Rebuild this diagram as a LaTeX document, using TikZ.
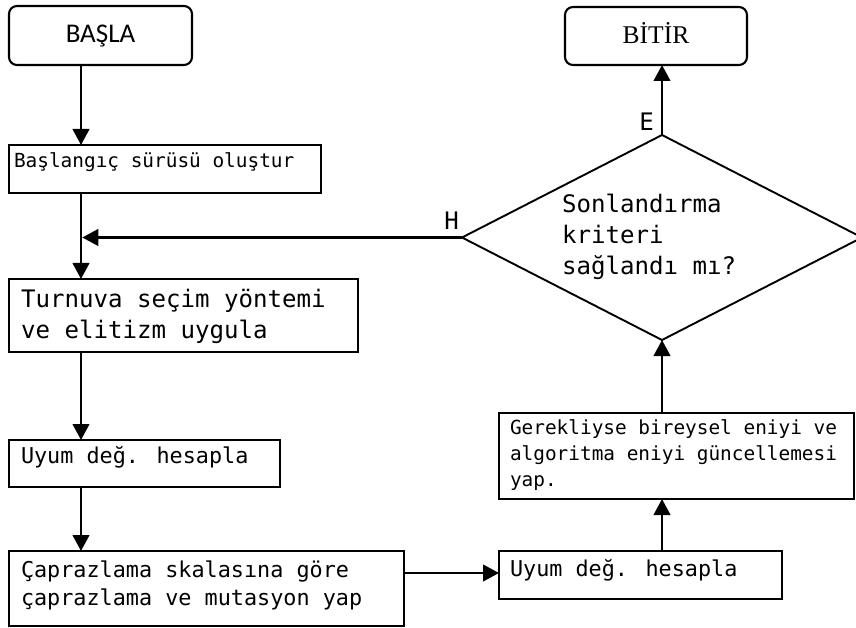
\documentclass[tikz,border=0pt]{standalone}
\usepackage{fontspec}
\newfontfamily\monof{DejaVu Sans Mono}
\newfontfamily\startf{Carlito}
\newfontfamily\endf{Liberation Serif}
\usetikzlibrary{shapes.geometric,arrows.meta}

% text sizes for the step boxes
\newcommand\txtS{\monof\fontsize{19.4pt}{26pt}\selectfont}
\newcommand\txtM{\monof\fontsize{21.8pt}{28pt}\selectfont}
\newcommand\txtL{\monof\fontsize{24.1pt}{31pt}\selectfont}

\tikzset{
  frame/.style={draw, line width=2.1pt, inner sep=0pt, outer sep=0pt, anchor=north west},
  endbox/.style={frame, rounded corners=8pt, text height=15pt, text depth=0pt},
  % multi-line texts are placed by the baseline of their last line
  txt/.style={anchor=base west, inner sep=0pt, outer sep=0pt, align=left},
  lbl/.style={anchor=base east, inner sep=0pt, font=\txtL},
  flow/.style={line width=2.6pt, -{Triangle[length=16pt,width=16.5pt]}},
}

\begin{document}
\begin{tikzpicture}[x=1pt, y=-1pt]
\clip (0,0) rectangle (856,628);

% start / end
\node[endbox, minimum width=183pt, minimum height=59pt,
      font=\startf\fontsize{27pt}{32pt}\selectfont] (b1) at (9,6) {BAŞLA};
\node[endbox, minimum width=182pt, minimum height=58pt, text height=14.6pt,
      font=\endf\fontsize{25.5pt}{30pt}\selectfont] (b8) at (565,7) {BİTİR};

% process boxes
\node[frame, minimum width=312pt, minimum height=48pt] (b2) at (9,145) {};
\node[frame, minimum width=349pt, minimum height=73pt] (b3) at (9,279) {};
\node[frame, minimum width=271pt, minimum height=47pt] (b4) at (9,440) {};
\node[frame, minimum width=395pt, minimum height=75pt] (b5) at (9,551) {};
\node[frame, minimum width=283pt, minimum height=48pt] (b6) at (499,551) {};
\node[frame, minimum width=355pt, minimum height=86pt] (b7) at (499,413) {};

% decision
\node[draw, diamond, line width=1.9pt, minimum width=400pt, minimum height=205pt,
      inner sep=0pt, outer sep=0pt] (dm) at (662,237.5) {};

% box texts
\node[txt, font=\txtS] (t2) at (14,168) {Başlangıç sürüsü oluştur};
\node[txt, font=\txtL] (t3) at (21,338) {Turnuva seçim yöntemi\\ve elitizm uygula};
\node[txt, font=\txtM] (t4) at (21,463) {Uyum değ. hesapla};
\node[txt, font=\txtM] (t5) at (21,605) {Çaprazlama skalasına göre\\çaprazlama ve mutasyon yap};
\node[txt, font=\txtM] (t6) at (510,576) {Uyum değ. hesapla};
\node[txt, font=\txtS] (t7) at (510,486) {Gerekliyse bireysel eniyi ve\\algoritma eniyi güncellemesi\\yap.};
\node[txt, font=\txtL] (td) at (562,274) {Sonlandırma\\kriteri\\sağlandı mı?};

% branch labels
\node[lbl] (le) at (654,131) {E};
\node[lbl] (lh) at (459,230) {H};

% connector columns
\coordinate (lc) at (81,0);
\coordinate (rc) at (662,0);
\coordinate (row) at (0,573);

\draw[flow] (b1.south -| lc) -- (b2.north -| lc);
\draw[flow] (b2.south -| lc) -- (b3.north -| lc);
\draw[flow] (b3.south -| lc) -- (b4.north -| lc);
\draw[flow] (b4.south -| lc) -- (b5.north -| lc);
\draw[flow] (b5.east |- row) -- (b6.west |- row);
\draw[flow] (b6.north -| rc) -- (b7.south -| rc);
\draw[flow] (b7.north -| rc) -- (dm.south);
\draw[flow] (dm.north) -- (b8.south -| rc);
\draw[flow, shorten >=1.3pt] (dm.west) -- (dm.west -| lc);
\end{tikzpicture}
\end{document}
